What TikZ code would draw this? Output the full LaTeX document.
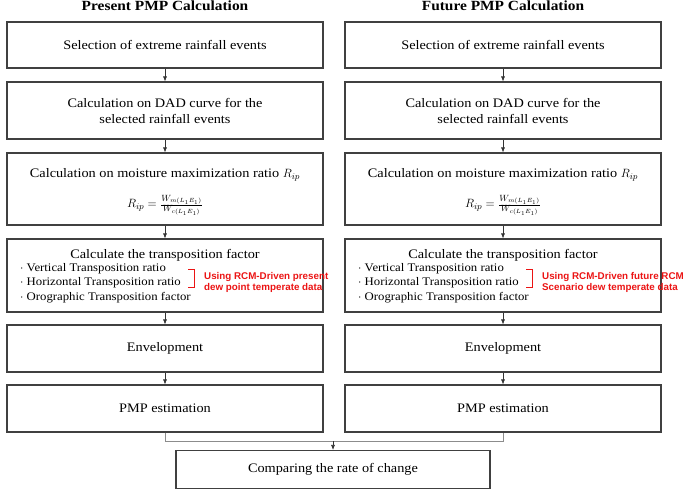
\documentclass[tikz,border=0pt]{standalone}
\usepackage{fontspec}
\setmainfont{Liberation Serif}[FakeStretch=1.1]
\newfontfamily\notefont{Liberation Sans}
\usetikzlibrary{arrows.meta}
\definecolor{notered}{RGB}{235,20,20}
\begin{document}
\begin{tikzpicture}[x=1pt,y=-1pt,
  stepbox/.style={draw=black!75,line width=1.1pt,minimum width=316pt,inner sep=0pt,font=\fontsize{13}{16}\selectfont,align=center},
  boxfont/.style={font=\fontsize{13}{16}\selectfont},
  titletext/.style={font=\fontsize{14}{16}\selectfont\bfseries,inner sep=0pt},
  arr/.style={-{Latex[length=5pt,width=4pt]},black!80,line width=0.6pt},
  joinline/.style={black!45,line width=0.8pt},
  note/.style={text=notered,font=\notefont\fontsize{9.8}{11.5}\selectfont\bfseries,align=left,anchor=west,inner sep=0pt},
  brk/.style={color=notered,line width=0.9pt}]
\useasboundingbox (0,0) rectangle (693,490);
% titles
\node[titletext] (tl) at (165,6) {Present PMP Calculation};
\node[titletext] (tr) at (503,6) {Future PMP Calculation};
\foreach \s/\cx in {L/165,R/503}{
  \node[stepbox,minimum height=46pt] (a\s) at (\cx,45) {Selection of extreme rainfall events};
  \node[stepbox,minimum height=57pt] (b\s) at (\cx,110.5) {Calculation on DAD curve for the\\selected rainfall events};
  \node[stepbox,minimum height=72pt] (c\s) at (\cx,189) {};
  \node[boxfont] (c\s t) at (\cx,175) {Calculation on moisture maximization ratio $R_{ip}$};
  \node[font=\fontsize{13}{15}\selectfont] (c\s f) at (\cx,205) {$R_{ip}=\frac{W_{m(L_1E_1)}}{W_{c(L_1E_1)}}$};
  \node[stepbox,minimum height=73pt] (d\s) at (\cx,275.5) {};
  \node[boxfont] (d\s t) at (\cx,255) {Calculate the transposition factor};
  \node[anchor=north west,align=left,inner sep=0pt,font=\fontsize{11.6}{14.5}\selectfont] (d\s l) at (\cx-145,263) {$\cdot$ Vertical Transposition ratio\\$\cdot$ Horizontal Transposition ratio\\$\cdot$ Orographic Transposition factor};
  \node[stepbox,minimum height=47pt] (e\s) at (\cx,348.5) {Envelopment};
  \node[stepbox,minimum height=47pt] (f\s) at (\cx,408.5) {PMP estimation};
  \draw[arr] (a\s) -- (b\s);
  \draw[arr] (b\s) -- (c\s);
  \draw[arr] (c\s) -- (d\s);
  \draw[arr] (d\s) -- (e\s);
  \draw[arr] (e\s) -- (f\s);
}
% red notes
\draw[brk] (188,269) -- (194,269) -- (194,287) -- (188,287);
\node[note] (nL) at (204,282.5) {Using RCM-Driven present\\dew point temperate data};
\draw[brk] (526,269) -- (532,269) -- (532,287) -- (526,287);
\node[note] (nR) at (542,282.5) {Using RCM-Driven future RCM\\Scenario dew temperate data};
% bottom
\node[stepbox,minimum width=314pt,minimum height=38pt] (g) at (333,469.5) {Comparing the rate of change};
\coordinate (jL) at (165,441);
\coordinate (jR) at (503,441);
\coordinate (jM) at (333,441);
\draw[joinline] (fL.south) -- (jL) -- (jR) -- (fR.south);
\draw[arr] (jM) -- (g.north);
\end{tikzpicture}
\end{document}
